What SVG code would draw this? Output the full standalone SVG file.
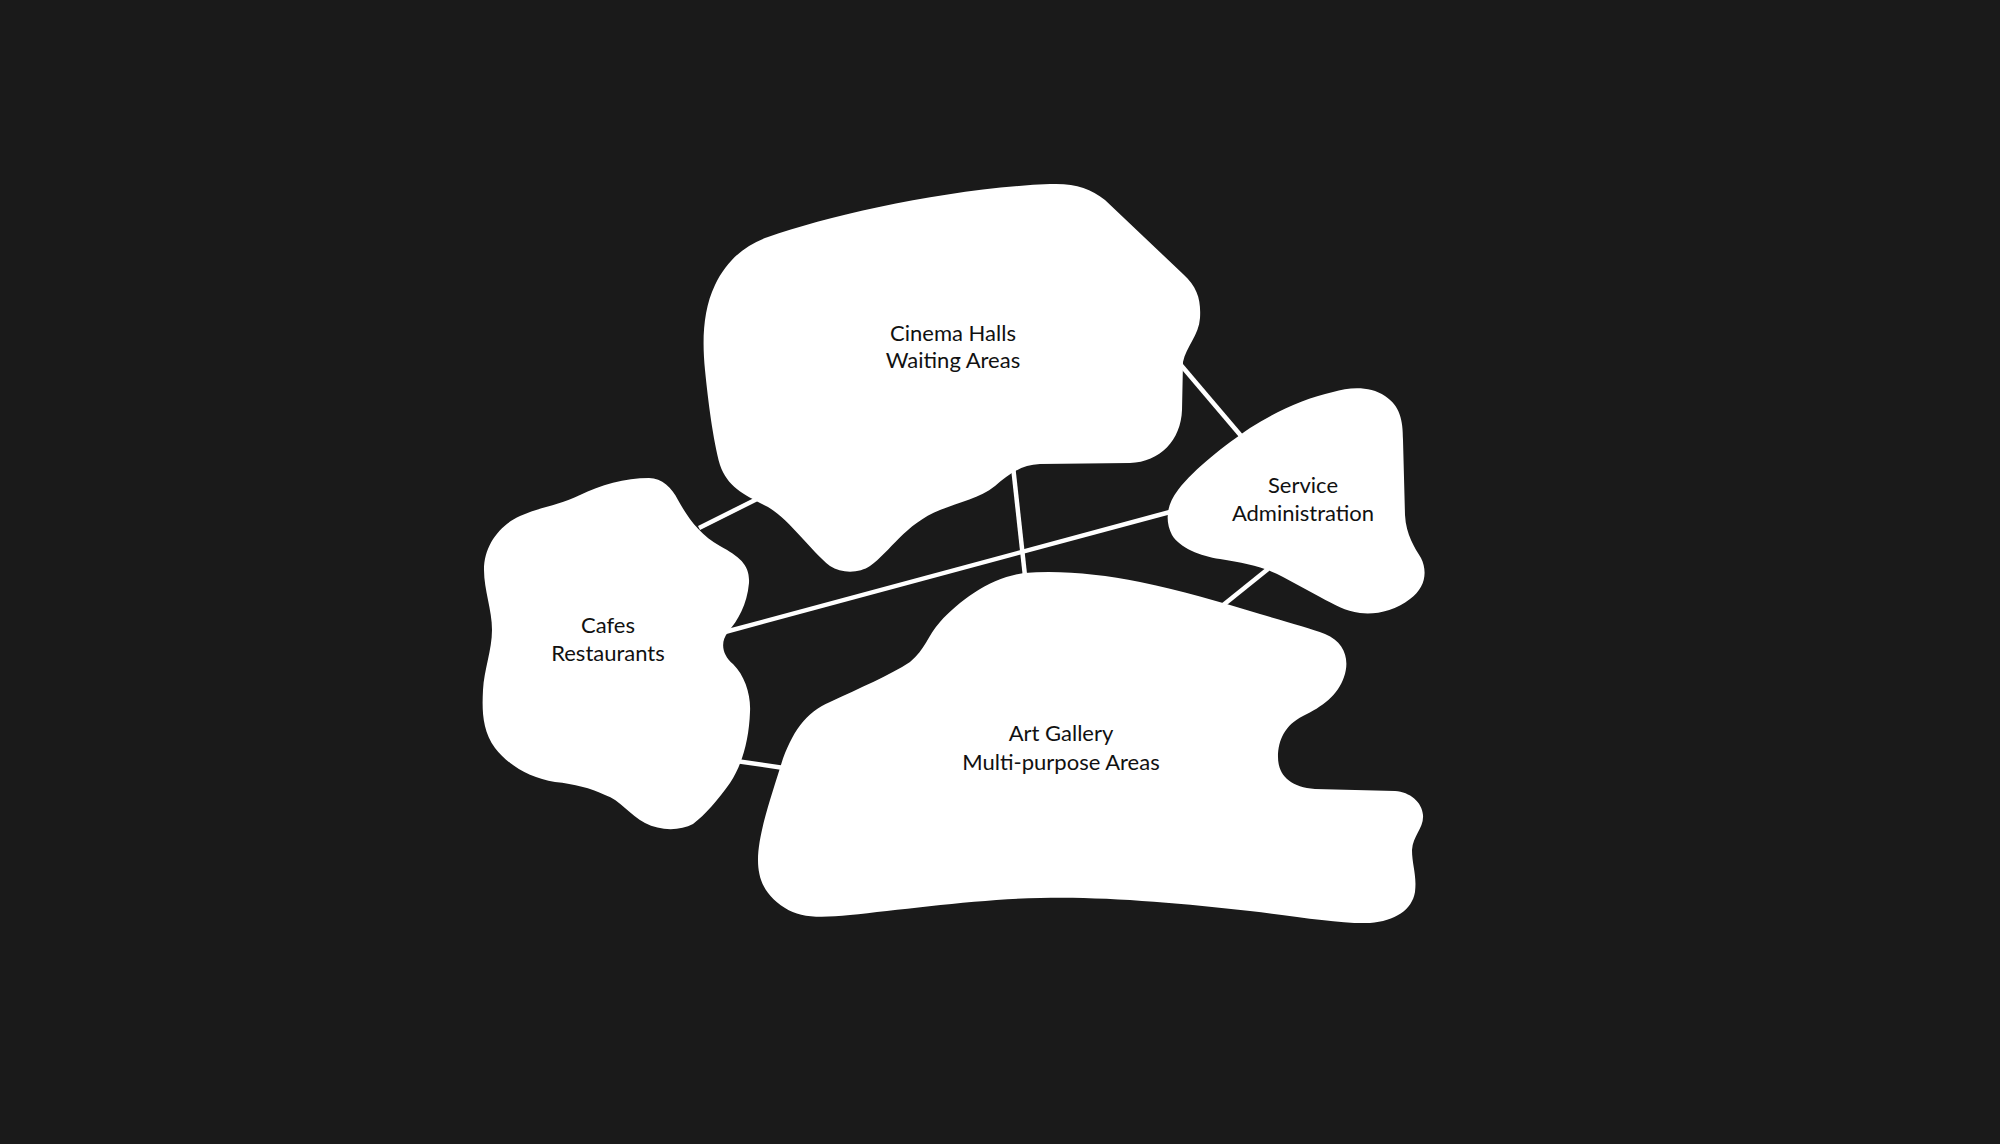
<svg xmlns="http://www.w3.org/2000/svg" width="2000" height="1144" viewBox="0 0 2000 1144">
<style>
.bg{fill:#1a1a1a}
.blob{fill:#ffffff;stroke:none}
.link{stroke:#ffffff;stroke-width:4.5;stroke-linecap:butt;fill:none}
.lbl{font-family:Lato,"Open Sans","Liberation Sans",sans-serif;font-size:22px;fill:#111111;text-anchor:middle}
</style>
<rect class="bg" x="0" y="0" width="2000" height="1144"/>
<g id="connectors">
<line class="link" x1="757" y1="499" x2="699" y2="528"/>
<line class="link" x1="1180" y1="364" x2="1242" y2="437"/>
<line class="link" x1="1013" y1="466" x2="1025" y2="576"/>
<line class="link" x1="725" y1="632" x2="1170" y2="512"/>
<line class="link" x1="1268" y1="569" x2="1222" y2="606"/>
<line class="link" x1="736" y1="761" x2="784" y2="768"/>
</g>
<g id="cinema">
<path class="blob" d="M 768,237 C 830,215 950,188 1050,184 C 1075,183 1090,188 1105,200 L 1183,274 C 1198,288 1201,300 1200,318 C 1199,335 1186,347 1183,362 L 1182,410 C 1181,440 1160,462 1130,463 L 1040,464 C 1020,465 1008,475 995,486 C 980,498 960,502 940,510 C 905,524 890,552 870,566 C 860,573 842,574 830,566 C 810,550 790,520 768,507 C 745,495 728,488 720,465 C 713,440 708,400 705,370 C 702,340 703,310 715,285 C 727,260 745,245 768,237 Z"/>
<text class="lbl" x="953" y="341">Cinema Halls</text>
<text class="lbl" x="953" y="368">Waiting Areas</text>
</g>
<g id="service">
<path class="blob" d="M 1333,392 C 1350,387 1370,386 1385,396 C 1400,406 1403,420 1403,440 L 1405,515 C 1406,535 1415,548 1421,558 C 1428,572 1425,588 1410,599 C 1395,611 1375,615 1360,613 C 1345,611 1335,605 1320,597 L 1283,577 C 1265,567 1245,563 1220,559 C 1200,556 1180,548 1172,535 C 1165,522 1166,505 1178,490 C 1195,468 1225,445 1250,428 C 1275,412 1305,398 1333,392 Z"/>
<text class="lbl" x="1303" y="493">Service</text>
<text class="lbl" x="1303" y="521">Administration</text>
</g>
<g id="cafes">
<path class="blob" d="M 649,478 C 662,478 672,488 678,500 C 688,518 700,535 720,546 C 740,557 750,565 749,583 C 747,605 738,620 728,632 C 720,642 722,655 733,664 C 745,676 751,695 750,712 C 749,740 742,765 730,783 C 718,800 705,815 693,824 C 680,831 660,831 645,823 C 630,815 620,800 605,795 C 590,788 575,784 555,782 C 530,778 508,765 495,748 C 482,730 482,710 483,690 C 484,670 492,650 492,630 C 492,610 484,590 484,570 C 484,545 500,525 520,516 C 540,507 560,505 580,495 C 600,485 625,478 649,478 Z"/>
<text class="lbl" x="608" y="633">Cafes</text>
<text class="lbl" x="608" y="661">Restaurants</text>
</g>
<g id="gallery">
<path class="blob" d="M 1024,573 C 1060,570 1100,574 1140,582 C 1180,590 1220,602 1260,614 C 1290,623 1310,628 1325,634 C 1345,642 1350,660 1344,677 C 1338,695 1322,707 1303,716 C 1285,725 1278,740 1278,757 C 1278,775 1290,787 1315,789 L 1395,791 C 1410,792 1422,802 1423,815 C 1424,828 1413,835 1412,850 C 1412,865 1417,875 1415,892 C 1412,910 1395,921 1370,923 C 1340,924 1300,917 1250,911 C 1180,903 1100,896 1040,898 C 980,899 900,910 850,915 C 820,918 800,918 785,908 C 765,895 758,880 758,860 C 758,835 770,800 780,768 C 790,735 805,712 830,702 C 860,688 890,675 910,662 C 925,650 928,635 940,622 C 960,600 990,578 1024,573 Z"/>
<text class="lbl" x="1061" y="741">Art Gallery</text>
<text class="lbl" x="1061" y="770">Multi-purpose Areas</text>
</g>
</svg>
